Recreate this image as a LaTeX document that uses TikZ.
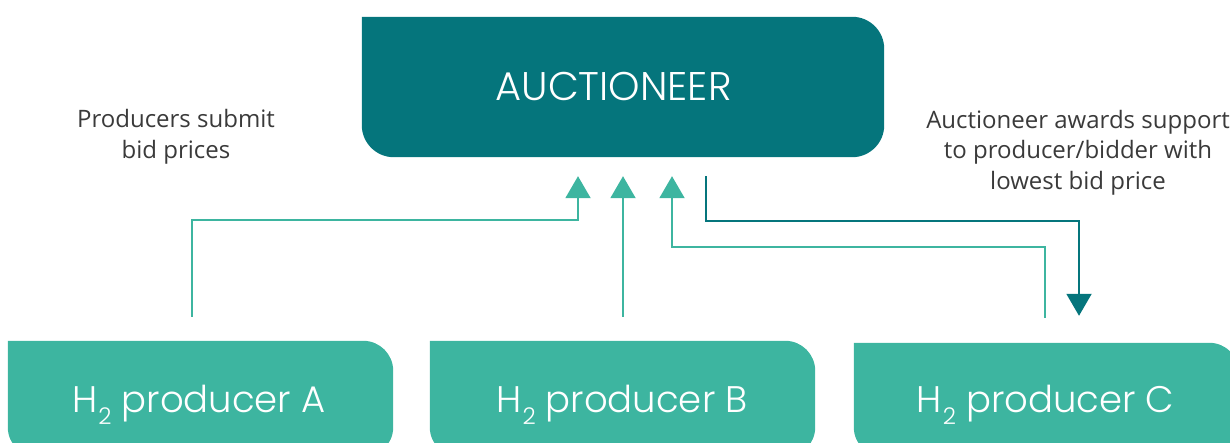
\documentclass[tikz,border=0pt]{standalone}
\usepackage{fontspec}
\setmainfont{Open Sans}
\newfontfamily\thinfont{Poppins Light}
\usetikzlibrary{arrows.meta}
\definecolor{auctteal}{HTML}{05757C}
\definecolor{prodteal}{HTML}{3DB5A0}
\definecolor{labelgray}{HTML}{3A3A3A}
\tikzset{
  x=1pt, y=1pt,
  boxanchor/.style={rectangle, draw=none, fill=none, inner sep=0pt, minimum height=#1},
  boxtext/.style={text=white, inner sep=0pt, font=\thinfont\fontsize{#1}{44}\selectfont},
  boxtext/.default=40,
  note/.style={text=labelgray, align=center, inner sep=0pt, font=\fontsize{24}{30.5}\selectfont},
  bidline/.style={draw=prodteal, line width=2pt, -{Triangle[width=25pt,length=22pt]}},
  awardline/.style={draw=auctteal, line width=2pt, -{Triangle[width=25pt,length=22pt]}},
}
% H with a lowered small 2
\newcommand{\Htwo}{H\kern1pt\raisebox{-12pt}{\fontsize{23}{23}\selectfont 2}}
% box with a square top-left corner and rounded remaining corners
\newcommand{\leafbox}[3]{% #1 colour, #2 node name, #3 radius
  \fill[#1] (#2.north west) -- ([xshift=-#3]#2.north east)
    arc[start angle=90, end angle=0, radius=#3]
    -- ([yshift=#3]#2.south east)
    arc[start angle=0, end angle=-90, radius=#3]
    -- ([xshift=#3]#2.south west)
    arc[start angle=270, end angle=180, radius=#3]
    -- cycle;}
\begin{document}
\begin{tikzpicture}
\useasboundingbox (0,0) rectangle (1230,443);
\clip (0,0) rectangle (1230,443);

% boxes (shape anchors)
\node[boxanchor=140pt, minimum width=522pt] (auc) at (623,356) {};
\node[boxanchor=116pt, minimum width=385pt] (pA) at (200.5,44) {};
\node[boxanchor=116pt, minimum width=385pt] (pB) at (622.5,44) {};
\node[boxanchor=114pt, minimum width=385pt] (pC) at (1046.5,43) {};

\leafbox{auctteal}{auc}{32pt}
\leafbox{prodteal}{pA}{30pt}
\leafbox{prodteal}{pB}{30pt}
\leafbox{prodteal}{pC}{30pt}

% box captions
\node[boxtext, anchor=base] (tauc) at (613.5,342) {AUCTIONEER};
\node[boxtext=37, anchor=base] (tA) at (199,30) {\Htwo\ producer A};
\node[boxtext=37, anchor=base] (tB) at (622,30) {\Htwo\ producer B};
\node[boxtext=37, anchor=base] (tC) at (1045.5,30) {\Htwo\ producer C};

% side notes
\node[note, anchor=base] (nbid) at (176,284.5) {Producers submit\\bid prices};
\node[note, anchor=base] (naward) at (1078,253.5) {Auctioneer awards support\\to producer/bidder with\\lowest bid price};

% bids from the producers
\draw[bidline] ([xshift=-8.5pt,yshift=24pt]pA.north) |- ([xshift=-45pt,yshift=-63pt]auc.south)
  -- ([xshift=-45pt,yshift=-19pt]auc.south);
\draw[bidline] ([xshift=0.5pt,yshift=24pt]pB.north) -- ([xshift=0pt,yshift=-19pt]auc.south);
\draw[bidline] ([xshift=-1.5pt,yshift=25pt]pC.north) |- ([xshift=49pt,yshift=-90pt]auc.south)
  -- ([xshift=49pt,yshift=-19pt]auc.south);

% award to the lowest bidder
\draw[awardline] ([xshift=83pt,yshift=-19pt]auc.south) |- ([xshift=32.5pt,yshift=122pt]pC.north)
  -- ([xshift=32.5pt,yshift=27pt]pC.north);
\end{tikzpicture}
\end{document}
